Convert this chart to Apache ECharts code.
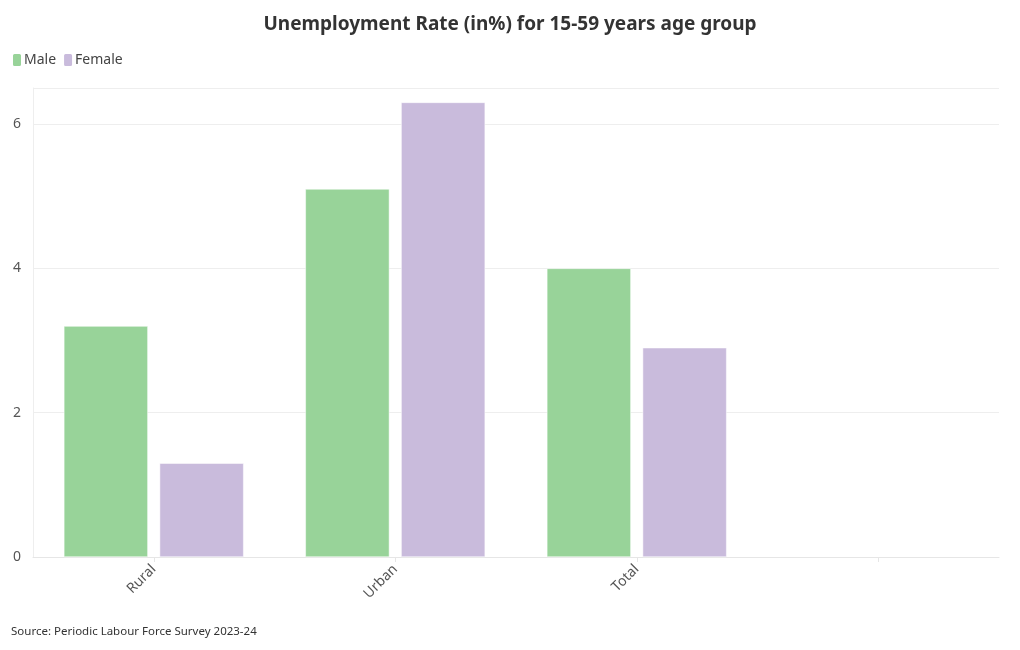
<!DOCTYPE html>
<html><head><meta charset="utf-8">
<script src="https://cdn.jsdelivr.net/npm/echarts@6/dist/echarts.min.js"></script>
<style>html,body{margin:0;padding:0;background:#fff}#c{width:1020px;height:650px}</style>
</head><body><div id="c"></div>
<script>
const categories = ['Rural', 'Urban', 'Total', ''];
const maleValues = [3.2, 5.1, 4.0, null];
const femaleValues = [1.3, 6.3, 2.9, null];
const seriesNames = ['Male', 'Female'];
const yTicks = [0, 2, 4, 6];

const FONT = '"Noto Sans", "Open Sans", sans-serif';
const chart = echarts.init(document.getElementById('c'));
chart.setOption({
  backgroundColor: '#fff',
  animation: false,
  textStyle: { fontFamily: FONT },
  title: {
    text: 'Unemployment Rate (in%) for 15-59 years age group',
    left: 'center', top: 10,
    textStyle: { fontFamily: FONT, fontSize: 19, fontWeight: 'bold', color: '#333' }
  },
  legend: {
    left: 6, top: 47, itemWidth: 10, itemHeight: 14, itemGap: 6,
    icon: 'roundRect',
    textStyle: { fontFamily: FONT, fontSize: 14, color: '#444', padding: [0, 0, 0, -3] },
    data: seriesNames
  },
  grid: { left: 33, right: 21, top: 88, bottom: 93, containLabel: false },
  xAxis: {
    type: 'category', data: categories,
    axisLine: { show: true, lineStyle: { color: '#e6e6e6' } },
    axisTick: { show: true, alignWithLabel: true, length: 5, lineStyle: { color: '#e6e6e6' } },
    axisLabel: { rotate: 45, fontSize: 14, color: '#555', fontFamily: FONT, margin: 10, interval: 0 }
  },
  yAxis: {
    type: 'value', min: 0, max: 6.5, interval: 2,
    axisLine: { show: true, lineStyle: { color: '#eeeeee' } },
    axisTick: { show: false },
    splitLine: { lineStyle: { color: '#eeeeee' } },
    axisLabel: {
      fontSize: 14, color: '#555', fontFamily: FONT, margin: 12,
      formatter: v => yTicks.includes(v) ? String(v) : ''
    }
  },
  series: [
    { name: seriesNames[0], type: 'bar', data: maleValues, barWidth: 84, barGap: '14%',
      itemStyle: { color: '#98d399', borderColor: '#fff', borderWidth: 0.5 } },
    { name: seriesNames[1], type: 'bar', data: femaleValues, barWidth: 84, barGap: '14%',
      itemStyle: { color: '#c9bbdc', borderColor: '#fff', borderWidth: 0.5 } }
  ],
  graphic: [{
    type: 'text', left: 11, top: 626,
    style: { text: 'Source: Periodic Labour Force Survey 2023-24', fontFamily: FONT, fontSize: 11.5, fill: '#333' }
  }]
});
</script></body></html>
